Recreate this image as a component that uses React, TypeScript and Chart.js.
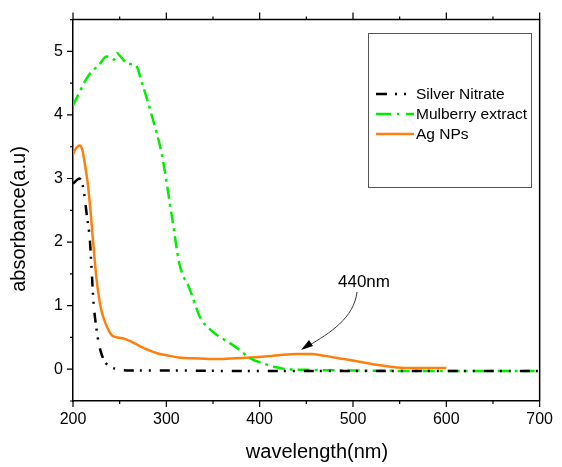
import React, { useEffect, useRef } from "react";
import { Chart, registerables } from "chart.js";
Chart.register(...registerables);

const silverWl = [200, 203, 207, 211, 215, 218, 220, 222, 225, 228, 231, 235, 240, 247, 260, 300, 400, 500, 600, 700];
const silverAbs = [2.92, 2.96, 3.0, 2.85, 2.4, 2.05, 1.55, 1.05, 0.65, 0.38, 0.22, 0.1, 0.04, 0.0, -0.02, -0.02, -0.03, -0.03, -0.03, -0.03];

const mulberryWl = [200, 205, 210, 214, 220, 228, 236, 241, 244, 247, 252, 257, 262, 267, 274, 285, 295, 306, 314, 325, 337, 346, 355, 366, 376, 390, 404, 418, 430, 450, 500, 600, 700];
const mulberryAbs = [4.15, 4.3, 4.45, 4.56, 4.68, 4.79, 4.92, 4.9, 4.87, 4.97, 4.9, 4.82, 4.8, 4.79, 4.5, 3.96, 3.39, 2.4, 1.66, 1.26, 0.79, 0.64, 0.53, 0.43, 0.33, 0.17, 0.09, 0.03, 0.0, -0.01, -0.02, -0.03, -0.03];

const agWl = [200, 203, 207, 210, 213, 216, 219, 221, 225, 230, 236, 242, 248, 255, 263, 272, 281, 290, 300, 316, 335, 351, 370, 386, 405, 420, 440, 455, 470, 490, 510, 525, 540, 557, 580, 600];
const agAbs = [3.38, 3.47, 3.52, 3.45, 3.2, 2.9, 2.45, 2.1, 1.45, 0.95, 0.68, 0.53, 0.5, 0.48, 0.43, 0.36, 0.3, 0.25, 0.22, 0.18, 0.17, 0.16, 0.17, 0.18, 0.2, 0.22, 0.24, 0.24, 0.21, 0.16, 0.11, 0.07, 0.04, 0.02, 0.02, 0.02];

const seriesNames = ["Silver Nitrate", "Mulberry extract", "Ag NPs"];
const seriesColors = ["#000000", "#00ee00", "#ff7f0e"];
const xMajor = [200, 300, 400, 500, 600, 700];
const xMinor = [250, 350, 450, 550, 650];
const yMajor = [0, 1, 2, 3, 4, 5];
const yMinor = [-0.5, 0.5, 1.5, 2.5, 3.5, 4.5, 5.5];
const xTitle = "wavelength(nm)";
const yTitle = "absorbance(a.u)";
const peakLabel = "440nm";

const FONT = "Arial, 'Liberation Sans', sans-serif";
const dashBlack = [10, 6, 2, 7, 2, 9];
const dashGreen = [12, 5, 3, 5];

const overlay = {
  id: "overlay",
  afterDraw(chart: any) {
    const ctx = chart.ctx as CanvasRenderingContext2D;
    const { left, right, top, bottom } = chart.chartArea;
    const xs = chart.scales.x;
    const ys = chart.scales.y;
    ctx.save();
    ctx.strokeStyle = "#000";
    ctx.lineWidth = 1.5;
    ctx.setLineDash([]);
    ctx.beginPath();
    ctx.moveTo(left, top);
    ctx.lineTo(right, top);
    ctx.lineTo(right, bottom);
    ctx.stroke();
    ctx.lineWidth = 1.2;
    ctx.beginPath();
    xMajor.forEach((v) => {
      const p = xs.getPixelForValue(v);
      ctx.moveTo(p, bottom);
      ctx.lineTo(p, bottom + 6);
      ctx.moveTo(p, top);
      ctx.lineTo(p, top - 7);
    });
    xMinor.forEach((v) => {
      const p = xs.getPixelForValue(v);
      ctx.moveTo(p, bottom);
      ctx.lineTo(p, bottom + 3);
      ctx.moveTo(p, top);
      ctx.lineTo(p, top - 3);
    });
    yMajor.forEach((v) => {
      const p = ys.getPixelForValue(v);
      ctx.moveTo(left, p);
      ctx.lineTo(left - 6, p);
    });
    yMinor.forEach((v) => {
      const p = ys.getPixelForValue(v);
      ctx.moveTo(left, p);
      ctx.lineTo(left - 3, p);
    });
    ctx.stroke();

    ctx.fillStyle = "#000";
    ctx.font = `20px ${FONT}`;
    ctx.textAlign = "center";
    ctx.textBaseline = "alphabetic";
    ctx.fillText(xTitle, 317, 458);
    ctx.save();
    ctx.translate(25, 219);
    ctx.rotate(-Math.PI / 2);
    ctx.fillText(yTitle, 0, 0);
    ctx.restore();

    ctx.strokeStyle = "#555";
    ctx.lineWidth = 1;
    ctx.strokeRect(368.5, 33.5, 163, 154);
    ctx.font = `15.5px ${FONT}`;
    ctx.textAlign = "left";
    const rows = [94, 114, 134];
    const dashes = [[11, 8, 2, 7, 2, 10], [15, 6, 2, 7, 10, 0], []];
    rows.forEach((y, i) => {
      ctx.strokeStyle = seriesColors[i];
      ctx.lineWidth = 2.5;
      ctx.setLineDash(dashes[i]);
      ctx.beginPath();
      ctx.moveTo(376, y);
      ctx.lineTo(414, y);
      ctx.stroke();
      ctx.setLineDash([]);
      ctx.fillStyle = "#000";
      ctx.fillText(seriesNames[i], 416, y + 5);
    });

    ctx.font = `17px ${FONT}`;
    ctx.textAlign = "center";
    ctx.fillText(peakLabel, 364, 287);
    ctx.strokeStyle = "#333";
    ctx.lineWidth = 1;
    ctx.beginPath();
    ctx.moveTo(357, 292);
    ctx.bezierCurveTo(354, 318, 330, 333, 308, 346);
    ctx.stroke();
    ctx.fillStyle = "#000";
    ctx.beginPath();
    ctx.moveTo(301, 350);
    ctx.lineTo(313, 346);
    ctx.lineTo(309, 340);
    ctx.closePath();
    ctx.fill();
    ctx.restore();
  },
};

export default function App() {
  const ref = useRef<HTMLCanvasElement>(null);
  useEffect(() => {
    const toPts = (xs: number[], ys: number[]) => xs.map((x, i) => ({ x, y: ys[i] }));
    const chart = new Chart(ref.current!, {
      type: "line",
      data: {
        datasets: [
          {
            label: seriesNames[0],
            data: toPts(silverWl, silverAbs),
            borderColor: seriesColors[0],
            borderWidth: 2.5,
            borderDash: dashBlack,
            pointRadius: 0,
            cubicInterpolationMode: "monotone",
          },
          {
            label: seriesNames[1],
            data: toPts(mulberryWl, mulberryAbs),
            borderColor: seriesColors[1],
            borderWidth: 2.5,
            borderDash: dashGreen,
            pointRadius: 0,
            cubicInterpolationMode: "monotone",
          },
          {
            label: seriesNames[2],
            data: toPts(agWl, agAbs),
            borderColor: seriesColors[2],
            borderWidth: 2.5,
            pointRadius: 0,
            cubicInterpolationMode: "monotone",
          },
        ],
      },
      options: {
        responsive: false,
        animation: false,
        layout: { padding: { top: 10, right: 14, left: 0, bottom: 0 } },
        plugins: { legend: { display: false }, tooltip: { enabled: false } },
        scales: {
          x: {
            type: "linear",
            min: 200,
            max: 700,
            grid: { display: false, drawTicks: false },
            border: { display: true, color: "#000", width: 1.5 },
            ticks: {
              padding: 9,
              color: "#000",
              font: { family: FONT, size: 16 },
              maxRotation: 0,
              autoSkip: false,
            },
            afterBuildTicks: (s: any) => {
              s.ticks = xMajor.map((v) => ({ value: v }));
            },
            afterFit: (s: any) => {
              s.height = 66;
            },
          },
          y: {
            type: "linear",
            min: -0.5,
            max: 5.5,
            grid: { display: false, drawTicks: false },
            border: { display: true, color: "#000", width: 1.5 },
            ticks: {
              padding: 10,
              color: "#000",
              font: { family: FONT, size: 16 },
              autoSkip: false,
            },
            afterBuildTicks: (s: any) => {
              s.ticks = yMajor.map((v) => ({ value: v }));
            },
            afterFit: (s: any) => {
              s.width = 73;
            },
          },
        },
      },
      plugins: [overlay],
    } as any);
    return () => chart.destroy();
  }, []);
  return (
    <canvas
      ref={ref}
      width={562}
      height={467}
      style={{ position: "absolute", left: 0, top: 0 }}
    />
  );
}
